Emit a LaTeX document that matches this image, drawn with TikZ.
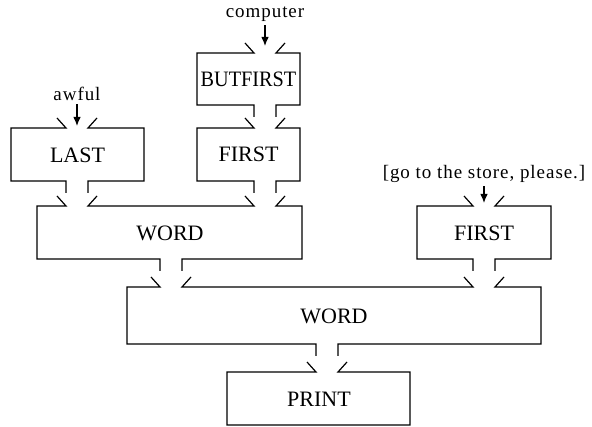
\documentclass[tikz,border=0pt]{standalone}
\usepackage{fontspec}
\setmainfont{Liberation Serif}
\usetikzlibrary{arrows.meta}
\begin{document}
\begin{tikzpicture}[x=1pt,y=-1pt,
  outline/.style={line width=1.2pt,line join=miter},
  boxtext/.style={font=\fontsize{22}{22}\selectfont,inner sep=0pt},
  lbl/.style={font=\fontsize{19}{19}\selectfont\addfontfeature{LetterSpace=5},inner sep=0pt},
  feed/.style={line width=1.1pt,-{Latex[length=9pt,width=7.5pt]}}]
\useasboundingbox (0,0) rectangle (592,427);
% BUTFIRST
\draw[outline] (245,43)--(254,53)--(197,53)--(197,105)--(254,105)--(254,117);
\draw[outline] (285,43)--(276,53)--(300,53)--(300,105)--(276,105)--(276,117);
\node[boxtext,xscale=0.92] (butfirst) at (248.5,79) {BUTFIRST};
% FIRST (middle)
\draw[outline] (245,118)--(254,128)--(197,128)--(197,181)--(254,181)--(254,193);
\draw[outline] (285,118)--(276,128)--(300,128)--(300,181)--(276,181)--(276,193);
\node[boxtext] (firstm) at (248.5,154.5) {FIRST};
% LAST
\draw[outline] (57,118)--(66,128)--(11,128)--(11,181)--(66,181)--(66,193);
\draw[outline] (97,118)--(88,128)--(144,128)--(144,181)--(88,181)--(88,193);
\node[boxtext] (last) at (77.5,155) {LAST};
% WORD (upper)
\draw[outline] (57,196)--(66,206)--(37,206)--(37,259)--(160,259)--(160,271);
\draw[outline] (97,196)--(88,206)--(254,206)--(245,196);
\draw[outline] (285,196)--(276,206)--(302,206)--(302,259)--(182,259)--(182,271);
\node[boxtext] (word1) at (170,233) {WORD};
% FIRST (right)
\draw[outline] (464,196)--(473,206)--(417,206)--(417,259)--(473,259)--(473,271);
\draw[outline] (504,196)--(495,206)--(551,206)--(551,259)--(495,259)--(495,271);
\node[boxtext] (firstr) at (484,233) {FIRST};
% WORD (lower)
\draw[outline] (151,277)--(160,287)--(127,287)--(127,344)--(316,344)--(316,356);
\draw[outline] (191,277)--(182,287)--(473,287)--(464,277);
\draw[outline] (504,277)--(495,287)--(541,287)--(541,344)--(338,344)--(338,356);
\node[boxtext] (word2) at (334,316) {WORD};
% PRINT
\draw[outline] (307,362)--(316,372)--(227,372)--(227,425)--(410,425)--(410,372)--(338,372)--(347,362);
\node[boxtext] (print) at (319,399) {PRINT};
% inputs
\node[lbl,anchor=base] (computer) at (265,18) {computer};
\node[lbl,anchor=base] (awful) at (77,101) {awful};
\node[lbl,anchor=base] (store) at (484,179) {[go to the store, please.]};
\coordinate (inB) at (265,46);
\coordinate (inL) at (77,126);
\coordinate (inF) at (484,203);
\draw[feed] (computer.south)++(0,3) -- (inB);
\draw[feed] (awful.south)++(0,3) -- (inL);
\draw[feed] (store.south)++(0,3) -- (inF);
\end{tikzpicture}
\end{document}
